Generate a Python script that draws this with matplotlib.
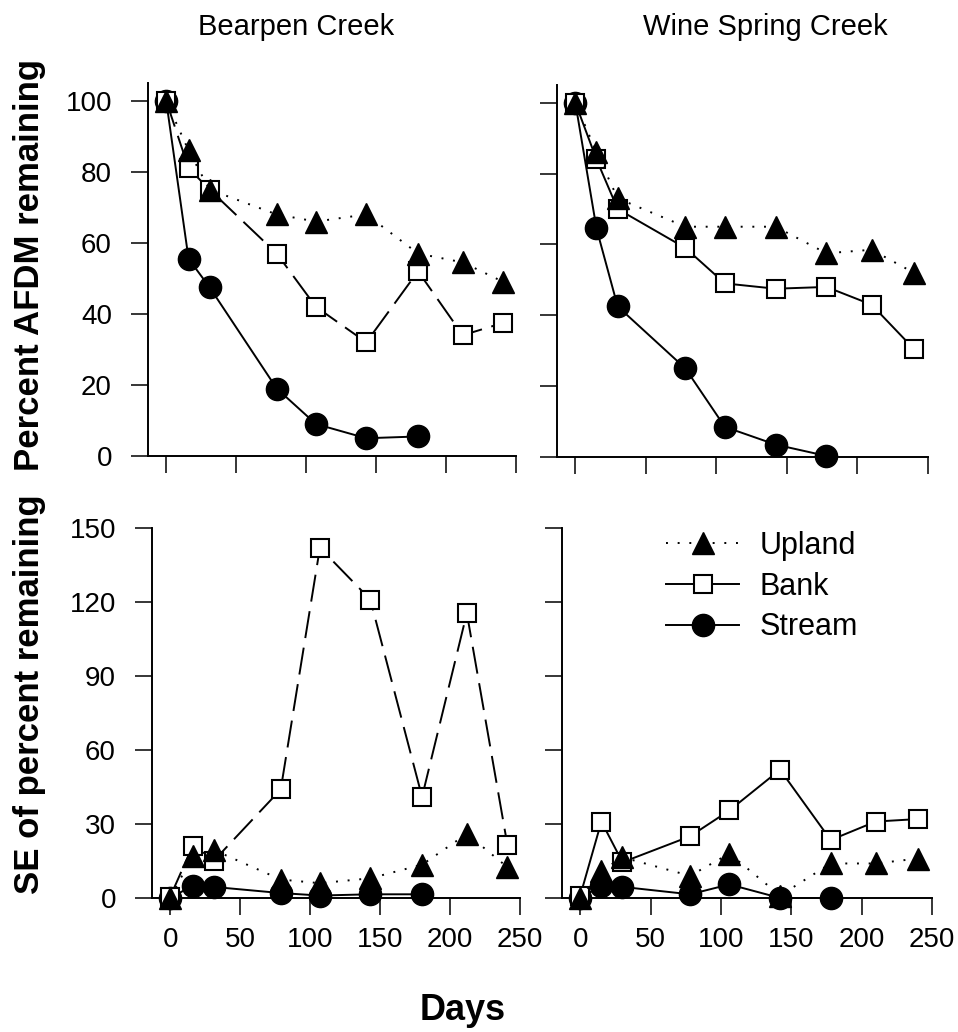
import matplotlib
matplotlib.use("Agg")
import matplotlib.pyplot as plt

plt.rcParams['font.family'] = ['Liberation Sans', 'DejaVu Sans']

# sampling days (estimated from the figure)
days_bp = [0, 16, 31, 79, 107, 143, 180, 212, 241]
days_ws = [0, 15, 30, 78, 106, 142, 178, 210, 240]

# percent AFDM remaining
bp_upland = [100, 86, 75, 68, 66, 68, 57, 54.5, 49]
bp_bank = [100, 81, 75, 57, 42, 32, 52, 34, 37.5]
bp_stream = [100, 55.5, 47.5, 19, 9, 5, 5.5]
ws_upland = [100, 86, 73, 65, 65, 65, 57.5, 58.5, 52]
ws_bank = [100, 84, 70, 59, 49, 47.5, 48, 43, 30.5]
ws_stream = [100, 64.5, 42.5, 25, 8.5, 3.5, 0.3]

# SE of percent remaining
bp_upland_se = [0, 17, 19.5, 7.5, 6, 8, 13.5, 26, 12.5]
bp_bank_se = [0.5, 21, 15, 44, 142, 121, 41, 115.5, 21.5]
bp_stream_se = [0, 5, 4.5, 2, 1, 1.5, 1.5]
ws_upland_se = [0, 11, 16.5, 9, 18, 1, 14, 14, 16]
ws_bank_se = [1, 31, 14.5, 25, 35.5, 52, 23.5, 31, 32]
ws_stream_se = [0, 5, 4.5, 1.5, 5.5, 0, 0]

creeks = ["Bearpen Creek", "Wine Spring Creek"]
x_ticks = [0, 50, 100, 150, 200, 250]
top_ticks = [0, 20, 40, 60, 80, 100]
bottom_ticks = [0, 30, 60, 90, 120, 150]

W, H = 958, 1032
fig = plt.figure(figsize=(W / 100, H / 100), dpi=100)


def box(l, r, t, b):
    return [l / W, 1 - b / H, (r - l) / W, (b - t) / H]


ax_tl = fig.add_axes(box(148, 516, 83, 456))
ax_tr = fig.add_axes(box(557, 928, 85, 457))
ax_bl = fig.add_axes(box(152, 520, 528, 898))
ax_br = fig.add_axes(box(562, 932, 528, 898))

lw = 1.4
ms = 16
up_style = dict(color='black', ls=(0, (1, 5)), lw=lw, marker='^', ms=ms,
                mfc='black', mec='black', clip_on=False, zorder=5)
bank_style = dict(color='black', lw=lw, marker='s', ms=13, mfc='white',
                  mec='black', mew=1.5, clip_on=False, zorder=4)
stream_style = dict(color='black', ls='-', lw=lw, marker='o', ms=ms,
                    mfc='black', mec='black', clip_on=False, zorder=3)

panels = [
    (ax_tl, days_bp, bp_upland, bp_bank, bp_stream, (0, (14, 5))),
    (ax_tr, days_ws, ws_upland, ws_bank, ws_stream, '-'),
    (ax_bl, days_bp, bp_upland_se, bp_bank_se, bp_stream_se, (0, (14, 5))),
    (ax_br, days_ws, ws_upland_se, ws_bank_se, ws_stream_se, '-'),
]

handles = []
for ax, d, up, bank, stream, bank_ls in panels:
    hs, = ax.plot(d[:len(stream)], stream, **stream_style)
    hb, = ax.plot(d, bank, ls=bank_ls, **bank_style)
    hu, = ax.plot(d, up, **up_style)
    handles = [hu, hb, hs]

for ax in [ax_tl, ax_tr, ax_bl, ax_br]:
    ax.set_xlim(-13, 250)
    ax.set_xticks(x_ticks)
    for s in ['top', 'right']:
        ax.spines[s].set_visible(False)
    for s in ['left', 'bottom']:
        ax.spines[s].set_linewidth(1.4)
    ax.tick_params(direction='out', length=12, width=1.1, labelsize=20)
    ax.tick_params(axis='y', pad=14)
    ax.tick_params(axis='x', pad=9)

for ax in [ax_tl, ax_tr]:
    ax.set_ylim(0, 105)
    ax.set_yticks(top_ticks)
    ax.tick_params(axis='x', labelbottom=False)
for ax in [ax_bl, ax_br]:
    ax.set_ylim(0, 150)
    ax.set_yticks(bottom_ticks)
for ax in [ax_tr, ax_br]:
    ax.tick_params(axis='y', labelleft=False)

fig.text(296 / W, 1 - 27 / H, creeks[0], ha='center', va='center', fontsize=21)
fig.text(765 / W, 1 - 27 / H, creeks[1], ha='center', va='center', fontsize=21)

fig.text(30 / W, 1 - 265 / H, "Percent AFDM remaining", rotation=90,
         ha='center', va='center', fontsize=25, fontweight='bold')
fig.text(30 / W, 1 - 694 / H, "SE of percent remaining", rotation=90,
         ha='center', va='center', fontsize=25, fontweight='bold')
fig.text(463 / W, 1 - 1010 / H, "Days", ha='center', va='center',
         fontsize=26, fontweight='bold')

# legend handles: Bank shown with a solid line
leg_bank, = ax_br.plot([], [], ls='-', **bank_style)
fig.legend([handles[0], leg_bank, handles[2]], ["Upland", "Bank", "Stream"],
           loc='upper left', bbox_to_anchor=(666 / W, 1 - 531 / H),
           frameon=False, fontsize=22, handlelength=2.4, handletextpad=0.65,
           labelspacing=0.35, borderpad=0, borderaxespad=0)

fig.savefig("out.png", dpi=100)
